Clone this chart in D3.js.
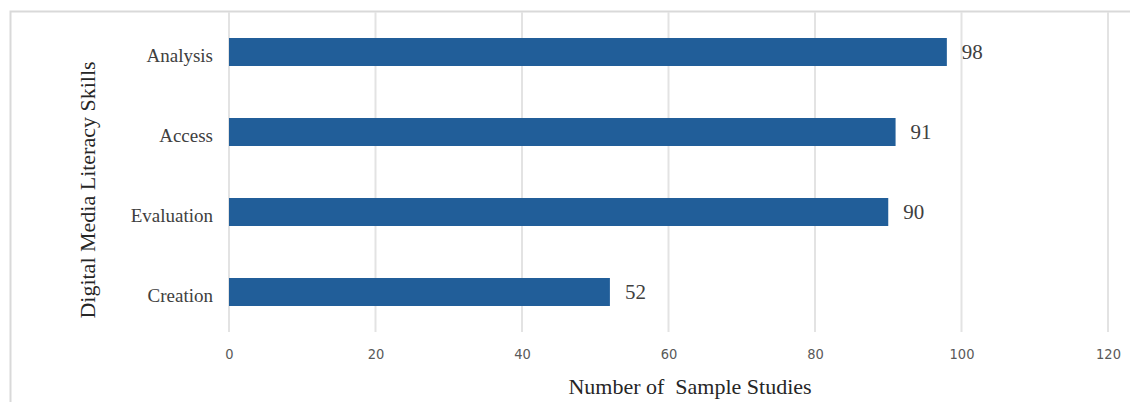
<!DOCTYPE html>
<html><head><meta charset="utf-8">
<script src="https://cdn.jsdelivr.net/npm/d3@7"></script>
<style>body{margin:0;background:#fff}svg{display:block}</style>
</head><body>
<svg id="c" width="1130" height="402"></svg>
<script>
const categories = ["Analysis", "Access", "Evaluation", "Creation"];
const values = [98, 91, 90, 52];
const xTicks = [0, 20, 40, 60, 80, 100, 120];
const xTitle = "Number of  Sample Studies";
const yTitle = "Digital Media Literacy Skills";

(function () {
const svg = d3.select("#c");
const pL = 229, pR = 1108, pT = 12, pB = 332;
const x = d3.scaleLinear().domain([0, 120]).range([pL, pR]);
const y = d3.scaleBand().domain(categories).range([pT, pB]).paddingInner(0.65).paddingOuter(0.325);

// frame
svg.append("path").attr("d", `M10.5,402 V11.5 H1130`).attr("fill", "none").attr("stroke", "#d9d9d9").attr("stroke-width", 2);

// gridlines
svg.append("g").selectAll("line").data(xTicks).join("line")
  .attr("x1", d => x(d)).attr("x2", d => x(d)).attr("y1", pT).attr("y2", pB)
  .attr("stroke", "#e3e3e3").attr("stroke-width", 2);

// x tick labels
const xa = svg.append("g").attr("transform", `translate(0,${pB})`)
  .call(d3.axisBottom(x).tickValues(xTicks).tickSize(0).tickPadding(17));
xa.select(".domain").remove();
xa.selectAll("text").attr("font-family", "'Liberation Sans Narrow','DejaVu Sans Condensed','Liberation Sans',sans-serif")
  .attr("font-size", 14.5).attr("fill", "#595959");

// y labels
const ya = svg.append("g").attr("transform", `translate(${pL - 16},0)`)
  .call(d3.axisLeft(y).tickSize(0).tickPadding(0));
ya.select(".domain").remove();
ya.selectAll("text").attr("font-family", "'Liberation Serif','Times New Roman',serif")
  .attr("font-size", 19).attr("fill", "#404040").attr("dy", "0.5em");

// bars
svg.append("g").selectAll("rect").data(values).join("rect")
  .attr("x", x(0)).attr("y", (d, i) => y(categories[i]))
  .attr("width", d => x(d) - x(0)).attr("height", y.bandwidth())
  .attr("fill", "#215e99");

// value labels
svg.append("g").selectAll("text").data(values).join("text")
  .attr("x", d => x(d) + 15).attr("y", (d, i) => y(categories[i]) + y.bandwidth() / 2)
  .attr("dy", "0.35em")
  .attr("font-family", "'Liberation Serif','Times New Roman',serif")
  .attr("font-size", 21).attr("fill", "#404040")
  .text(d => d);

// axis titles
svg.append("text").attr("x", 690).attr("y", 394).attr("text-anchor", "middle")
  .attr("font-family", "'Liberation Serif','Times New Roman',serif")
  .attr("font-size", 22).attr("fill", "#262626").style("white-space", "pre")
  .text(xTitle);
svg.append("text").attr("transform", "translate(95,190) rotate(-90)").attr("text-anchor", "middle")
  .attr("font-family", "'Liberation Serif','Times New Roman',serif")
  .attr("font-size", 22).attr("fill", "#262626")
  .text(yTitle);
})();
</script>
</body></html>
